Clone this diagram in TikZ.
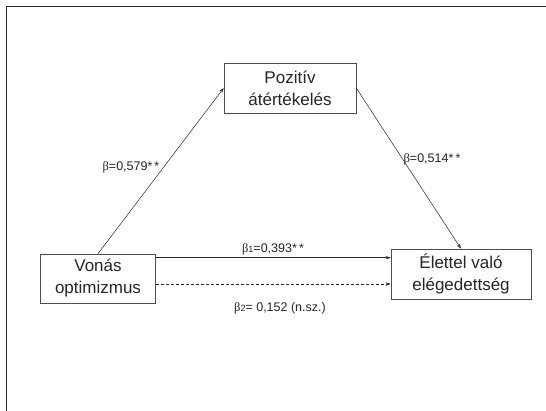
\documentclass[tikz,border=0pt]{standalone}
\usepackage{fontspec}
\setmainfont{Liberation Sans}
\newfontfamily\betafont{Liberation Serif}
\usetikzlibrary{arrows.meta,calc}
\newcommand{\bb}{{\betafont β}}
\newcommand{\sbs}[1]{{\fontsize{9}{9}\selectfont #1}}
\begin{document}
\begin{tikzpicture}[x=1pt,y=-1pt,
  box/.style={draw=black!70,line width=0.6pt,rectangle,align=center,text=black!85,
    font=\fontsize{17}{22}\selectfont,inner sep=0pt},
  lab/.style={text=black!85,font=\fontsize{12.5}{14}\selectfont,inner sep=0pt},
  conn/.style={draw=black!85,line width=0.5pt,-{Stealth[length=5pt,width=3.2pt]}}]
\useasboundingbox (0,0) rectangle (546,411);
\fill[white] (0,0) rectangle (546,411);
\draw[black!85,line width=0.8pt] (6,412) -- (6,6) -- (547,6);
\node[box,minimum width=132pt,minimum height=50pt] (p) at (290,88) {Pozitív\\átértékelés};
\node[box,minimum width=115pt,minimum height=49pt] (v) at (98,278.5) {Vonás\\optimizmus};
\node[box,minimum width=140pt,minimum height=50pt] (e) at (461,274) {Élettel való\\elégedettség};
\draw[conn] (v.north) -- (p.west);
\draw[conn] (p.east) -- (e.north);
\coordinate (s1) at ($(v.north east)+(0,4)$);
\coordinate (s2) at ($(v.east)+(0,5.5)$);
\draw[conn] (s1) -- (e.west |- s1);
\draw[conn,dash pattern=on 3pt off 2pt] (s2) -- (e.west |- s2);
\node[lab] (l1) at (131,167) {\bb=0,579*\,*};
\node[lab] (l2) at (432,159) {\bb=0,514*\,*};
\node[lab] (l3) at (273,249) {\bb\sbs{1}=0,393*\,*};
\node[lab] (l4) at (280,308) {\bb\sbs{2}= 0,152 (n.sz.)};
\end{tikzpicture}
\end{document}
